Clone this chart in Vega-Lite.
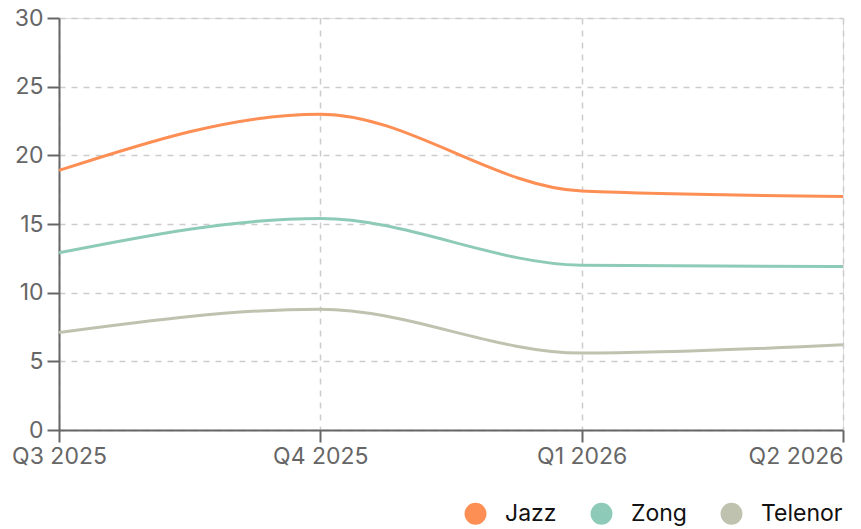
{
  "$schema": "https://vega.github.io/schema/vega-lite/v6.json",
  "autosize": "none",
  "width": 784,
  "height": 412,
  "padding": {"left": 59, "top": 18, "right": 18, "bottom": 99},
  "background": "white",
  "data": {"values": [
    {"quarter": "Q3 2025", "operator": "Jazz", "value": 18.9},
    {"quarter": "Q4 2025", "operator": "Jazz", "value": 23.0},
    {"quarter": "Q1 2026", "operator": "Jazz", "value": 17.4},
    {"quarter": "Q2 2026", "operator": "Jazz", "value": 17.0},
    {"quarter": "Q3 2025", "operator": "Zong", "value": 12.9},
    {"quarter": "Q4 2025", "operator": "Zong", "value": 15.4},
    {"quarter": "Q1 2026", "operator": "Zong", "value": 12.0},
    {"quarter": "Q2 2026", "operator": "Zong", "value": 11.9},
    {"quarter": "Q3 2025", "operator": "Telenor", "value": 7.1},
    {"quarter": "Q4 2025", "operator": "Telenor", "value": 8.8},
    {"quarter": "Q1 2026", "operator": "Telenor", "value": 5.6},
    {"quarter": "Q2 2026", "operator": "Telenor", "value": 6.2}
  ]},
  "mark": {"type": "line", "interpolate": "monotone", "strokeWidth": 3},
  "encoding": {
    "x": {
      "field": "quarter", "type": "ordinal", "sort": null,
      "scale": {"type": "point", "padding": 0},
      "axis": {
        "title": null, "labelAngle": 0, "labelFont": "Inter", "labelFontSize": 23,
        "labelColor": "#666666", "domainColor": "#666666", "domainWidth": 2,
        "tickColor": "#666666", "tickWidth": 2, "tickSize": 12, "labelPadding": 3,
        "grid": true, "gridColor": "#cccccc", "gridDash": [6, 6], "gridWidth": 1.5,
        "labelAlign": {"expr": "datum.index === 1 ? 'right' : 'center'"},
        "labelBound": false
      }
    },
    "y": {
      "field": "value", "type": "quantitative",
      "scale": {"domain": [0, 30]},
      "axis": {
        "title": null, "values": [0, 5, 10, 15, 20, 25, 30], "labelFont": "Inter", "labelFontSize": 23,
        "labelColor": "#666666", "domainColor": "#666666", "domainWidth": 2,
        "tickColor": "#666666", "tickWidth": 2, "tickSize": 12, "labelPadding": 4,
        "grid": true, "gridColor": "#cccccc", "gridDash": [6, 6], "gridWidth": 1.5
      }
    },
    "color": {
      "field": "operator", "type": "nominal", "sort": ["Jazz", "Zong", "Telenor"],
      "scale": {"domain": ["Jazz", "Zong", "Telenor"], "range": ["#FD8E54", "#8DCBB8", "#BFC2AF"]},
      "legend": {
        "title": null, "orient": "none", "direction": "horizontal",
        "legendX": 405, "legendY": 484,
        "symbolType": "circle", "symbolSize": 480, "symbolStrokeWidth": 0,
        "labelFont": "Inter", "labelFontSize": 23, "labelColor": "#111111", "labelOffset": 18,
        "columnPadding": 33,
        "encode": {"symbols": {"update": {"fill": {"scale": "color", "field": "value"}, "fillOpacity": {"value": 1}}}}
      }
    }
  }
}
